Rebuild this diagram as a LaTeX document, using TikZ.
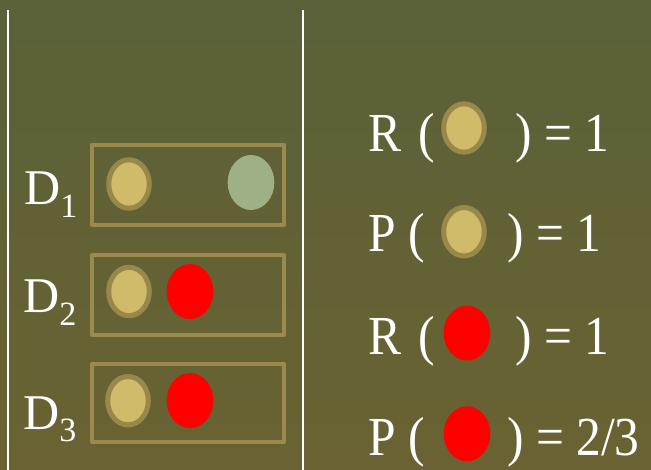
\documentclass[tikz,border=0pt]{standalone}
\usepackage{fontspec}
\setmainfont{Liberation Serif}
\usetikzlibrary{shapes.geometric}
\definecolor{bgtop}{RGB}{90,97,56}
\definecolor{bgbot}{RGB}{106,98,50}
\definecolor{frameol}{RGB}{156,138,76}
\definecolor{ringol}{RGB}{152,136,74}
\definecolor{sand}{RGB}{207,187,105}
\definecolor{sage}{RGB}{157,176,134}
\definecolor{hot}{RGB}{255,0,0}
\tikzset{
  docbox/.style={draw=frameol, line width=4pt, line join=round, minimum width=192pt, minimum height=80pt, inner sep=0pt},
  tandot/.style={ellipse, draw=ringol, fill=sand, line width=5pt, minimum width=40.6pt, minimum height=48.4pt, inner sep=0pt},
  greendot/.style={ellipse, fill=sage, minimum width=46.7pt, minimum height=55pt, inner sep=0pt},
  reddot/.style={ellipse, fill=hot, minimum width=46.7pt, minimum height=55pt, inner sep=0pt},
  divider/.style={draw=white, line width=2pt},
  dlabel/.style={text=white, font=\fontsize{50}{50}\selectfont, anchor=base west, inner sep=0pt},
  eqtext/.style={text=white, font=\fontsize{55}{55}\selectfont, anchor=base west, inner sep=0pt},
}
\newcommand{\subidx}[1]{\raisebox{-13pt}{\fontsize{34}{34}\selectfont #1}}
\newcommand{\narrow}[1]{\scalebox{0.9}[1]{#1}}
\begin{document}
\begin{tikzpicture}[x=1pt, y=-1pt]
  % background
  \shade[top color=bgtop, bottom color=bgbot] (0,0) rectangle (651,470);
  \useasboundingbox (0,0) rectangle (651,470);

  % column dividers
  \coordinate (l1) at (8,10);  \coordinate (l2) at (8,470);
  \coordinate (r1) at (303,10); \coordinate (r2) at (303,470);
  \draw[divider] (l1) -- (l2);
  \draw[divider] (r1) -- (r2);

  % documents
  \node[docbox] (box1) at (188,185) {};
  \node[docbox] (box2) at (188,295) {};
  \node[docbox, minimum height=78pt] (box3) at (188,403) {};

  \node[tandot] (d1a) at (129,184) {};
  \node[greendot] (d1b) at (251,182.5) {};
  \node[tandot] (d2a) at (129,291.5) {};
  \node[reddot] (d2b) at (190,291.5) {};
  \node[tandot] (d3a) at (128,400.7) {};
  \node[reddot] (d3b) at (190,400.5) {};

  % document labels
  \node[dlabel] (lab1) at (24,205) {D\subidx{1}};
  \node[dlabel] (lab2) at (23,313) {D\subidx{2}};
  \node[dlabel] (lab3) at (23,429) {D\subidx{3}};

  % recall / precision
  \node[eqtext] (r1l) at (368,152) {\narrow{R\ \hspace{5pt}(}};
  \node[tandot] (r1d) at (464,128) {};
  \node[eqtext] (r1r) at (515,152) {\narrow{) = 1}};

  \node[eqtext] (p1l) at (368,252) {\narrow{P\ (}};
  \node[tandot] (p1d) at (464,231.7) {};
  \node[eqtext] (p1r) at (507,252) {\narrow{) = 1}};

  \node[eqtext] (r2l) at (368,355) {\narrow{R\ \hspace{5pt}(}};
  \node[reddot] (r2d) at (467,333) {};
  \node[eqtext] (r2r) at (515,355) {\narrow{) = 1}};

  \node[eqtext] (p2l) at (368,455) {\narrow{P\ (}};
  \node[reddot] (p2d) at (467,433.7) {};
  \node[eqtext] (p2r) at (507,455) {\narrow{) = 2/3}};
\end{tikzpicture}
\end{document}
